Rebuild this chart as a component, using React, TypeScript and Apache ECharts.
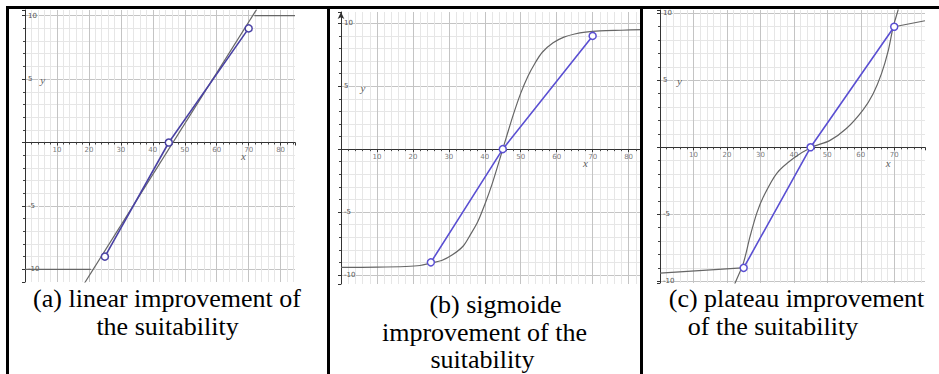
import { useEffect, useRef } from "react";
import * as echarts from "echarts";

// Blue reference polyline (same in all three panels)
const blueX = [25, 45, 70];
const blueY = [-9, 0, 9];

// Tick labels shown on the x axis (at y = 0)
const xTickLabels = [10, 20, 30, 40, 50, 60, 70, 80];

// Panel (a) linear improvement: plateaus and ramp
const aLowX = [0, 20.6];
const aLowY = [-10, -10];
const aRampX = [18.6, 72.5];
const aRampY = [-11.1, 10.5];
const aHighX = [71.8, 84.5];
const aHighY = [10, 10];

// Panel (b) sigmoid curve
const bCurveX = [0, 10, 18, 22, 25, 28, 31, 34, 36, 38, 40, 42, 44, 45, 46, 48, 50, 52, 54, 56, 59, 62, 65, 68, 72, 78, 84];
const bCurveY = [-9.4, -9.38, -9.33, -9.25, -9.05, -8.85, -8.4, -7.7, -6.8, -5.8, -4.4, -2.8, -0.95, 0, 0.95, 2.8, 4.45, 5.8, 6.85, 7.7, 8.45, 8.9, 9.15, 9.3, 9.4, 9.45, 9.5];

// Panel (c) plateau curve
const cLowX = [0, 24.5];
const cLowY = [-9.4, -9.0];
const cCurveX = [22.0, 22.4, 24.9, 26.9, 28.9, 30.9, 34.9, 39.9, 45.3, 50.7, 55.7, 60.7, 63.7, 66.2, 68.2, 69.7, 71.1, 71.4];
const cCurveY = [-10.6, -10.17, -8.66, -6.67, -4.93, -3.69, -1.94, -0.82, 0, 0.5, 1.4, 2.8, 4.0, 5.5, 7.2, 9.0, 10.2, 10.6];
const cHighX = [70, 79.2];
const cHighY = [9.0, 9.45];

// Axis name labels (x, y) per panel in data coordinates
const axisNames = ["x", "y"];
const xNameAt = [[68.4, -1.1], [68, -1.12], [68.2, -1.2]];
const yNameAt = [[5.5, 4.9], [6.1, 4.84], [5.8, 4.9]];

// Captions
const captionA = ["(a) linear improvement of", "the suitability"];
const captionB = ["(b) sigmoide", "improvement of the", "suitability"];
const captionC = ["(c) plateau improvement", "of the suitability"];

const panels = [
  { left: 25, top: 10, width: 270, height: 272, xMax: 84.5, yMin: -11, yMax: 10.45, blue: "#4a42a4", arrow: false },
  { left: 341, top: 12, width: 300, height: 272, xMax: 83.45, yMin: -10.72, yMax: 10.9, blue: "#5a4fd2", arrow: true },
  { left: 660, top: 10, width: 265, height: 273, xMax: 79.2, yMin: -10.13, yMax: 10.25, blue: "#5a4fd2", arrow: false },
];

const pairs = (xs: number[], ys: number[]) => xs.map((x, i) => [x, ys[i]]);
const fmt = (v: number) => (v === 0 ? "" : String(v));

const GRAY = "#666666";
const CLEAR = "rgba(0,0,0,0)";

export default function App() {
  const ref = useRef<HTMLDivElement>(null);
  useEffect(() => {
    const chart = echarts.init(ref.current!, null, { renderer: "svg" });
    const grids: any[] = [];
    const xAxes: any[] = [];
    const yAxes: any[] = [];
    const series: any[] = [];

    const grayLine = (i: number, data: number[][], smooth: number | boolean = false) => ({
      type: "line",
      xAxisIndex: i,
      yAxisIndex: i,
      data,
      showSymbol: false,
      smooth,
      lineStyle: { color: GRAY, width: 1.2 },
      z: 3,
      silent: true,
    });

    panels.forEach((p, i) => {
      grids.push({ left: p.left, top: p.top, width: p.width, height: p.height, containLabel: false, outerBoundsMode: "none" });
      xAxes.push({
        type: "value",
        gridIndex: i,
        min: 0,
        max: p.xMax,
        minInterval: 10,
        maxInterval: 10,
        splitNumber: 8,
        axisLine: { onZero: true, lineStyle: { color: "#333", width: 1 } },
        axisTick: { show: true, length: 3, lineStyle: { color: "#333" } },
        minorTick: { show: true, splitNumber: 5, length: 2, lineStyle: { color: "#444" } },
        axisLabel: { show: false },
        splitLine: { show: true, showMinLine: false, showMaxLine: false, lineStyle: { color: "#c4c4c4", width: 1 } },
        minorSplitLine: { show: true, lineStyle: { color: "#e6e6e6", width: 1 } },
      });
      yAxes.push({
        type: "value",
        gridIndex: i,
        min: p.yMin,
        max: p.yMax,
        minInterval: 5,
        maxInterval: 5,
        splitNumber: 4,
        axisLine: {
          onZero: true,
          lineStyle: { color: "#333", width: 1 },
          symbol: p.arrow ? ["none", "arrow"] : ["none", "none"],
          symbolSize: [5, 7],
        },
        axisTick: { show: true, length: 3, lineStyle: { color: "#333" } },
        minorTick: { show: true, splitNumber: 5, length: 2, lineStyle: { color: "#444" } },
        axisLabel: { inside: true, fontSize: 7, color: "#555", margin: 3, showMinLabel: false, showMaxLabel: false, formatter: fmt, fontFamily: "DejaVu Sans" },
        splitLine: { show: true, showMinLine: false, showMaxLine: false, lineStyle: { color: "#c4c4c4", width: 1 } },
        minorSplitLine: { show: true, lineStyle: { color: "#e6e6e6", width: 1 } },
      });

      // x tick labels along y = 0
      series.push({
        type: "scatter",
        xAxisIndex: i,
        yAxisIndex: i,
        symbolSize: 2,
        itemStyle: { color: CLEAR, borderWidth: 0 },
        silent: true,
        data: xTickLabels.filter((v) => v < p.xMax - 2).map((v) => [v, 0]),
        label: {
          show: true,
          position: "bottom",
          distance: 3,
          formatter: (d: any) => String(d.value[0]),
          fontFamily: "DejaVu Sans",
          fontSize: 7,
          color: "#555555",
          textBorderWidth: 0,
        },
        z: 4,
      });

      // axis name labels
      series.push({
        type: "scatter",
        xAxisIndex: i,
        yAxisIndex: i,
        symbolSize: 2,
        itemStyle: { color: CLEAR, borderWidth: 0 },
        silent: true,
        data: [
          { value: xNameAt[i], name: axisNames[0] },
          { value: yNameAt[i], name: axisNames[1] },
        ],
        label: {
          show: true,
          position: "top",
          distance: -6,
          formatter: (d: any) => d.name,
          fontFamily: "Liberation Serif",
          fontStyle: "italic",
          fontSize: 11,
          color: "#333333",
          textBorderWidth: 0,
        },
        z: 4,
      });
    });

    // panel (a)
    series.push(grayLine(0, pairs(aLowX, aLowY)));
    series.push(grayLine(0, pairs(aRampX, aRampY)));
    series.push(grayLine(0, pairs(aHighX, aHighY)));
    // panel (b)
    series.push(grayLine(1, pairs(bCurveX, bCurveY), 0.3));
    // panel (c)
    series.push(grayLine(2, pairs(cLowX, cLowY)));
    series.push(grayLine(2, pairs(cCurveX, cCurveY), 0.3));
    series.push(grayLine(2, pairs(cHighX, cHighY)));

    panels.forEach((p, i) => {
      series.push({
        type: "line",
        xAxisIndex: i,
        yAxisIndex: i,
        data: pairs(blueX, blueY),
        symbol: "circle",
        symbolSize: 7,
        showSymbol: true,
        lineStyle: { color: p.blue, width: 1.6 },
        itemStyle: { color: "#ffffff", borderColor: p.blue, borderWidth: 1.5 },
        z: 5,
        silent: true,
      });
    });

    const text = (t: string, x: number, y: number) => ({
      type: "text",
      x,
      y,
      z: 50,
      style: {
        text: t,
        fill: "#000",
        fontFamily: "Liberation Serif",
        fontSize: 26,
        lineHeight: 18,
        align: "center",
        verticalAlign: "middle",
      },
    });
    const vline = (x: number) => ({ type: "line", z: 100, shape: { x1: x, y1: 6, x2: x, y2: 374 }, style: { stroke: "#000", lineWidth: 3 } });

    const graphic: any[] = [
      { type: "line", z: 100, shape: { x1: 6, y1: 7.5, x2: 939, y2: 7.5 }, style: { stroke: "#000", lineWidth: 3 } },
      vline(7.5),
      vline(328.5),
      vline(641.5),
      text(captionA[0], 167, 298.5),
      text(captionA[1], 167.5, 326.5),
      text(captionB[0], 495.5, 304),
      text(captionB[1], 484.5, 332.5),
      text(captionB[2], 482.5, 359.3),
      text(captionC[0], 796.5, 298),
      text(captionC[1], 773, 326),
    ];

    chart.setOption({
      animation: false,
      backgroundColor: "#ffffff",
      grid: grids,
      xAxis: xAxes,
      yAxis: yAxes,
      series,
      graphic,
    });
    return () => chart.dispose();
  }, []);

  return <div ref={ref} style={{ position: "absolute", left: 0, top: 0, width: 939, height: 374 }} />;
}
